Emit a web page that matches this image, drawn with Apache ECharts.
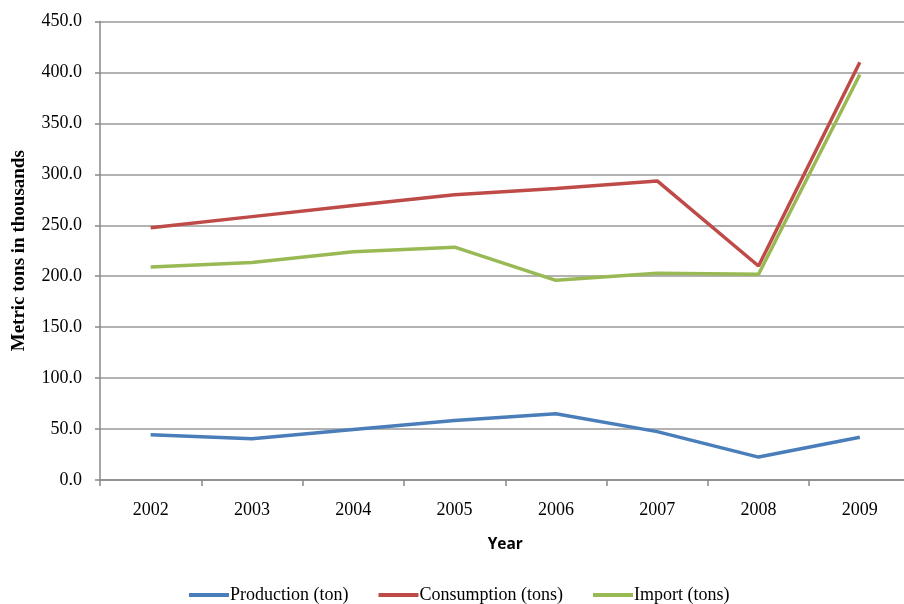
<!DOCTYPE html>
<html><head><meta charset="utf-8">
<script src="https://cdn.jsdelivr.net/npm/echarts@6/dist/echarts.min.js"></script>
<style>html,body{margin:0;padding:0;background:#fff}#c{width:904px;height:604px}</style>
</head><body><div id="c"></div>
<script>
var years = ['2002','2003','2004','2005','2006','2007','2008','2009'];
var production = [44.5, 40.5, 49.5, 58.5, 65, 47.5, 22.5, 42];
var consumption = [247.5, 258.5, 269.5, 280, 286, 293.5, 210, 410];
var importTons = [209, 213.5, 224, 228.5, 196, 203, 202, 398];
var yTicks = {min: 0, max: 450, interval: 50};

var chart = echarts.init(document.getElementById('c'));
var serif = '"Liberation Serif", "DejaVu Serif", serif';
chart.setOption({
  animation: false,
  grid: {left: 100, right: -6.5, top: 21.5, bottom: 124, containLabel: false, outerBoundsMode: 'none'},
  legend: {
    top: 586, left: 189, padding: 0,
    itemWidth: 40, itemHeight: 4, itemGap: 30, icon: 'rect',
    textStyle: {fontFamily: serif, fontSize: 18, color: '#000', padding: [0,0,0,-4]},
    data: ['Production (ton)', 'Consumption (tons)', 'Import (tons)']
  },
  xAxis: {
    type: 'category', data: years, boundaryGap: true,
    name: 'Year', nameLocation: 'middle', nameGap: 57,
    nameTextStyle: {fontFamily: '"Open Sans", "Liberation Sans", sans-serif', fontWeight: 'bold', fontSize: 15.5, color: '#000'},
    axisLine: {lineStyle: {color: '#888', width: 1.5}},
    axisTick: {show: true, length: 6, lineStyle: {color: '#888', width: 1.5}},
    axisLabel: {fontFamily: serif, fontSize: 18, color: '#000', margin: 21}
  },
  yAxis: {
    type: 'value', min: yTicks.min, max: yTicks.max, interval: yTicks.interval,
    name: 'Metric tons in thousands', nameLocation: 'middle', nameGap: 71, nameRotate: 90,
    nameTextStyle: {fontFamily: serif, fontWeight: 'bold', fontSize: 19, color: '#000'},
    axisLine: {show: true, lineStyle: {color: '#888', width: 1.5}},
    axisTick: {show: true, length: 5, lineStyle: {color: '#888', width: 1.5}},
    axisLabel: {fontFamily: serif, fontSize: 18, color: '#000', margin: 18,
      formatter: function(v){ return v.toFixed(1); }},
    splitLine: {lineStyle: {color: '#999', width: 1.5}}
  },
  series: [
    {name: 'Production (ton)', type: 'line', data: production, symbol: 'none',
     lineStyle: {color: '#4a7ebb', width: 3.5}, itemStyle: {color: '#4a7ebb'}},
    {name: 'Consumption (tons)', type: 'line', data: consumption, symbol: 'none',
     lineStyle: {color: '#be4b48', width: 3.5}, itemStyle: {color: '#be4b48'}},
    {name: 'Import (tons)', type: 'line', data: importTons, symbol: 'none',
     lineStyle: {color: '#98b954', width: 3.5}, itemStyle: {color: '#98b954'}}
  ]
});
</script></body></html>
